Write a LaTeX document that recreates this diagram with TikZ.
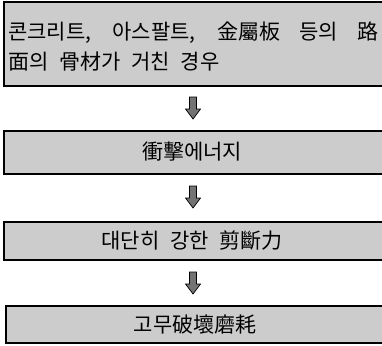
\documentclass[tikz,border=0pt]{standalone}
\usepackage{fontspec}
\newfontfamily\kr[WordSpace=2.3]{Noto Sans CJK KR}
\definecolor{boxfill}{gray}{0.80}
\definecolor{arrfill}{gray}{0.45}
\tikzset{
  flowbox/.style={draw=black, line width=1.2pt, fill=boxfill},
  blockarrow/.style={draw=black, line width=0.7pt, fill=arrfill, line join=miter},
  boxtext/.style={font=\kr\fontsize{21}{28}\selectfont, inner sep=0pt}
}
\newcommand{\myarrow}[1]{%
  \draw[blockarrow, shift={(#1)}] (-3.5,-11) -- (3.5,-11) -- (3.5,1) -- (7.5,1)
    -- (0,11) -- (-7.5,1) -- (-3.5,1) -- cycle;}
\begin{document}
\begin{tikzpicture}[x=1pt,y=-1pt]
\useasboundingbox (0,0) rectangle (382,345);
\draw[flowbox] (4,2) rectangle (386,86);
\draw[flowbox] (4,131) rectangle (386,174);
\draw[flowbox] (4,222) rectangle (386,260);
\draw[flowbox] (6,306) rectangle (386,343);
\node[boxtext, anchor=west] (t1a) at (8,33) {\makebox[370pt][s]{콘크리트, 아스팔트, 金屬板 등의 路}};
\node[boxtext, anchor=west] (t1b) at (8,62) {面의 骨材가 거친 경우};
\node[boxtext] (t2) at (192,152) {衝擊에너지};
\node[boxtext] (t3) at (192,241) {대단히 강한 剪斷力};
\node[boxtext] (t4) at (195,325) {고무破壞磨耗};
\coordinate (a1) at (193,108);
\coordinate (a2) at (193,197);
\coordinate (a3) at (193,283);
\myarrow{a1}
\myarrow{a2}
\myarrow{a3}
\end{tikzpicture}
\end{document}
